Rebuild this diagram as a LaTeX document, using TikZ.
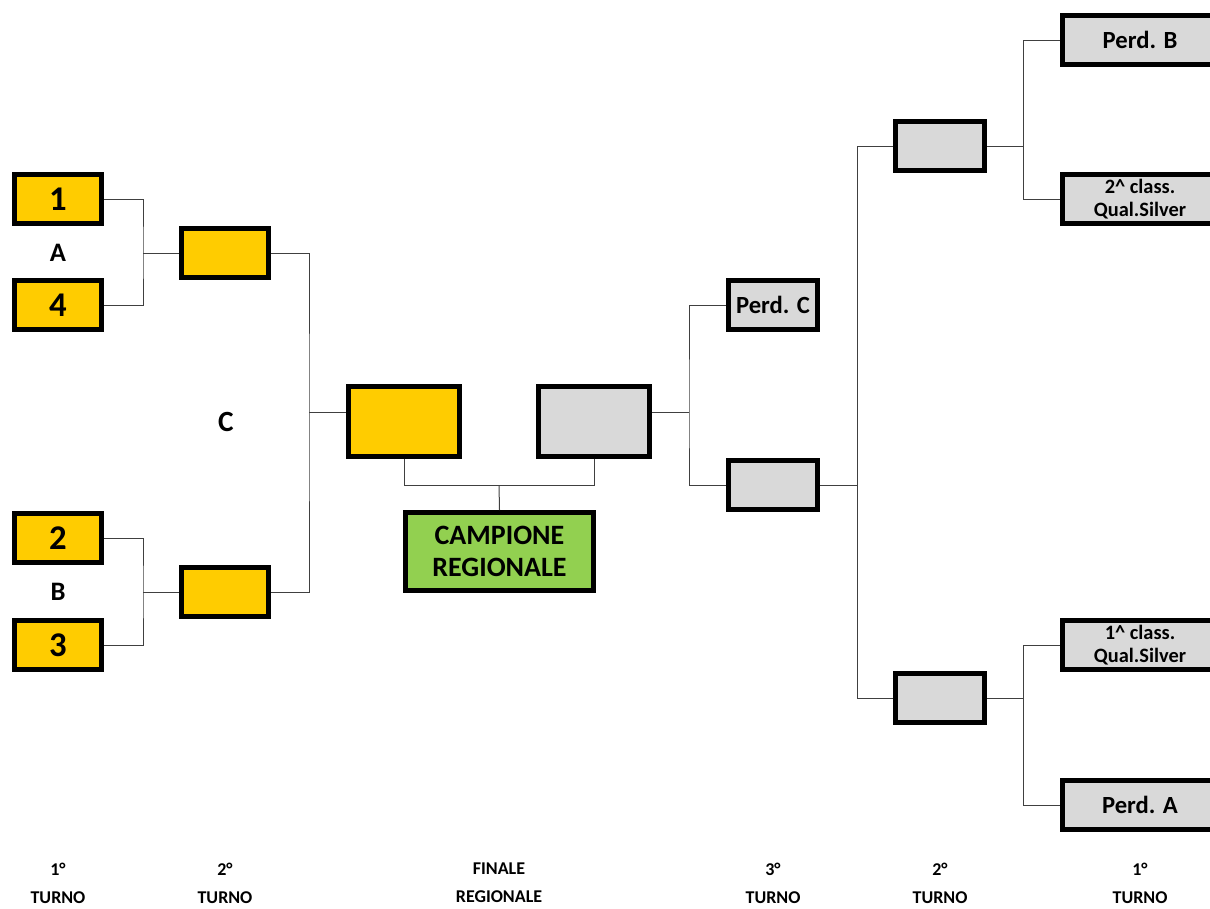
\documentclass[tikz,border=0pt]{standalone}
\usepackage{fontspec}
\setmainfont{Carlito}
\usepackage{tikz}
\usetikzlibrary{positioning}
\definecolor{giallo}{HTML}{FFCC00}
\definecolor{grigio}{HTML}{D9D9D9}
\definecolor{verde}{HTML}{92D050}
\tikzset{
  box/.style = {rectangle, draw=black, line width=3.75pt, inner sep=0pt,
    align=center, font=\bfseries},
  box_y/.style = {box, fill=giallo, minimum width=65.25pt, minimum height=36.75pt},% primo e secondo turno
  box_g/.style = {box, fill=grigio, minimum width=66.75pt, minimum height=36.75pt},% tabellone destro
  box_f/.style = {box, minimum width=83.25pt, minimum height=52.5pt},% finale
  box_w/.style = {box_g, minimum width=116.25pt, font=\bfseries\fontsize{15.3}{17.5}\selectfont},% colonna destra
  num/.style = {font=\bfseries\fontsize{26}{30}\selectfont},
  perd/.style = {font=\bfseries\fontsize{18.5}{21}\selectfont},
  lbl/.style = {font=\bfseries\fontsize{20}{24}\selectfont, inner sep=0pt},
  turno/.style = {align=center, font=\bfseries\fontsize{13.5}{21}\selectfont, inner sep=0pt},
  link/.style = {draw=black!75, line width=0.75pt}
}
\begin{document}
\begin{tikzpicture}[x=0.75pt,y=-0.75pt]
        \clip (0,0) rectangle (1210,908);
        % tabellone sinistro
        \node [box_y, num](s1) at (58,199){1};
        \node [box_y, num](s4) at (58,305){4};
        \node [box_y, num](s2) at (58,538){2};
        \node [box_y, num](s3) at (58,645){3};
        \node [lbl](gA) at (58,253){A};
        \node [lbl](gB) at (58,592){B};
        \node [lbl, font=\bfseries\fontsize{22}{26}\selectfont](gC) at (226,422){C};
        \node [box_y](q1) at (225,253){};
        \node [box_y](q2) at (225,592){};
        % finale
        \node [box_f, fill=giallo](fin1) at (404,421.5){};
        \node [box_f, fill=grigio](fin2) at (594,421.5){};
        \node [box, fill=verde, minimum width=141pt, minimum height=58.5pt,
          font=\bfseries\fontsize{21}{24.5}\selectfont](camp) at (499.5,551.5){CAMPIONE\\REGIONALE};
        % tabellone destro
        \node [box_g, perd](pC) at (773,305){Perd. C};
        \node [box_g](r3) at (773,485){};
        \node [box_g](d1) at (940,146){};
        \node [box_g](d2) at (940,698){};
        \node [box_w, perd](pB) at (1140,40){Perd. B};
        \node [box_w](c2) at (1140,199){2\textasciicircum{} class.\\Qual.Silver};
        \node [box_w](c1) at (1140,645){1\textasciicircum{} class.\\Qual.Silver};
        \node [box_w, perd](pA) at (1140,805){Perd. A};
        % turni
        \node [turno](t1) at (58,883){1°\\TURNO};
        \node [turno](t2) at (225,883){2°\\TURNO};
        \node [turno](tf) at (499,883){FINALE\\REGIONALE};
        \node [turno](t3) at (773,883){3°\\TURNO};
        \node [turno](t2b) at (940,883){2°\\TURNO};
        \node [turno](t1b) at (1140,883){1°\\TURNO};
        % collegamenti
        \coordinate (jA) at (143,253);
        \coordinate (jB) at (143,592);
        \coordinate (jC) at (309,412);
        \coordinate (jF) at (499,485);
        \coordinate (jG) at (689,412);
        \coordinate (jH) at (857,485);
        \coordinate (jI) at (1023,146);
        \coordinate (jJ) at (1023,698);
        \draw [link] (s1.east) -| (jA) |- (s4.east);
        \draw [link] (jA) -- (q1.west);
        \draw [link] (s2.east) -| (jB) |- (s3.east);
        \draw [link] (jB) -- (q2.west);
        \draw [link] (q1.east) -| (jC) |- (q2.east);
        \draw [link] (jC) -- (jC -| fin1.west);
        \draw [link] (fin1.south) |- (jF) -| (fin2.south);
        \draw [link] (jF) -- (camp.north);
        \draw [link] (jG -| fin2.east) -- (jG);
        \draw [link] (pC.west) -| (jG) |- (r3.west);
        \draw [link] (r3.east) -- (jH);
        \draw [link] (d1.west) -| (jH) |- (d2.west);
        \draw [link] (d1.east) -- (jI);
        \draw [link] (pB.west) -| (jI) |- (c2.west);
        \draw [link] (d2.east) -- (jJ);
        \draw [link] (c1.west) -| (jJ) |- (pA.west);
        \end{tikzpicture}
\end{document}
